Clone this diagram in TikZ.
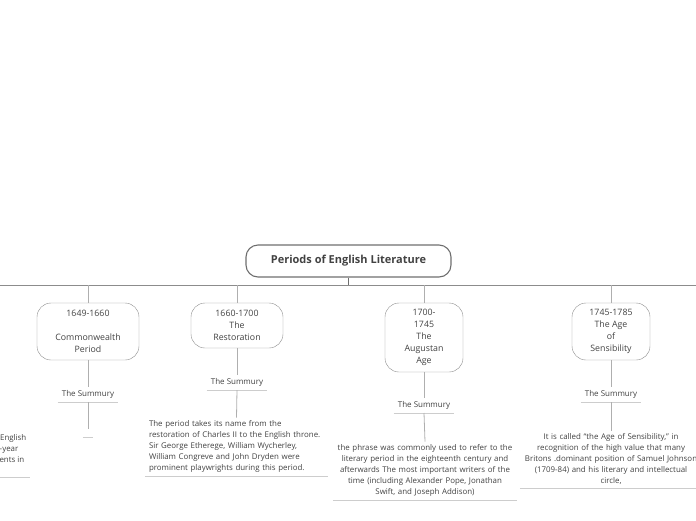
\documentclass[tikz,border=0pt]{standalone}
\usepackage{fontspec}
\setmainfont{Open Sans}
\definecolor{txt}{RGB}{66,66,66}
\definecolor{rootline}{RGB}{110,110,110}
\definecolor{boxline}{RGB}{140,140,140}
\definecolor{linkline}{RGB}{175,175,175}
\definecolor{underline}{RGB}{205,205,205}
\begin{document}
\begin{tikzpicture}[x=1pt,y=-1pt,
		root/.style={draw=rootline, line width=1.1pt, rounded corners=12pt, minimum width=205pt, minimum height=32pt, text=txt, font=\fontsize{11}{13}\selectfont\bfseries},
		period/.style={draw=boxline, rounded corners=14pt, align=center, inner sep=0pt, text=txt, font=\fontsize{8.8}{12}\selectfont},
		summ/.style={text=txt, inner xsep=4pt, inner ysep=3.5pt, font=\fontsize{8}{11}\selectfont},
		body/.style={text=txt, inner xsep=4pt, inner ysep=3pt, font=\fontsize{7.9}{11}\selectfont},
		link/.style={draw=linkline, line width=0.8pt},
		under/.style={draw=underline, line width=0.8pt}]
	\useasboundingbox (0,0) rectangle (696,520);
	\node[root] (root) at (348.5,261) {Periods of English Literature};
	\coordinate (bus west) at (0,285);
	\coordinate (bus east) at (696,285);
	\draw[draw=boxline, line width=0.9pt] (bus west) -- (bus east);
	\draw[draw=rootline, line width=0.9pt] (root.south) -- (root.south |- bus west);

	\node[period, minimum width=102pt, minimum height=57pt] (p1) at (88,331.5) {1649-1660\\ \\Commonwealth\\Period};
	\node[period, minimum width=92pt, minimum height=45pt] (p2) at (237,325.5) {1660-1700\\The\\Restoration};
	\node[period, minimum width=78pt, minimum height=69pt] (p3) at (424,337.5) {1700-\\1745\\ The\\Augustan\\Age};
	\node[period, minimum width=78pt, minimum height=57pt] (p4) at (611,331.5) {1745-1785\\The Age\\of\\Sensibility};
	\foreach \p in {p1,p2,p3,p4}
		\draw[link] (\p.north) -- (\p.north |- bus west);

	\node[summ, anchor=south] (s1) at (88,402) {The Summury};
	\node[summ, anchor=south] (s2) at (237,390) {The Summury};
	\node[summ, anchor=south] (s3) at (424,413) {The Summury};
	\node[summ, anchor=south] (s4) at (611,402) {The Summury};

	\node[body, anchor=south, minimum width=10pt, minimum height=8pt] (t1) at (88,437) {};
	\node[body, anchor=south, text width=175pt, align=left] (t2) at (236.5,476) {The period takes its name from the\\restoration of Charles II to the English throne.\\Sir George Etherege, William Wycherley,\\William Congreve and John Dryden were\\prominent playwrights during this period.};
	\node[body, anchor=south, text width=176pt, align=center] (t3) at (425,500) {the phrase was commonly used to refer to the\\literary period in the eighteenth century and\\afterwards The most important writers of the\\time (including Alexander Pope, Jonathan\\Swift, and Joseph Addison)};
	\node[body, anchor=south, text width=174pt, align=center] (t4) at (611,488) {It is called ``the Age of Sensibility,'' in\\recognition of the high value that many\\Britons .dominant position of Samuel Johnson\\(1709-84) and his literary and intellectual\\circle,};
	\node[body, anchor=south east, align=right, inner xsep=0pt] (t0) at (26.5,477) {English\\-year\rule{8pt}{0pt}\\ents in\rule{2pt}{0pt}\\\mbox{}};

	\foreach \i in {1,2,3,4} {
		\draw[link] (p\i.south) -- (s\i.north);
		\draw[under] (s\i.south west) -- (s\i.south east);
		\draw[link] (s\i.south) -- (t\i.north);
		\draw[under] (t\i.south west) -- (t\i.south east);
	}
	\coordinate (t0 end) at (t0.south east);
	\draw[under] (bus west |- t0 end) -- ([xshift=3.5pt]t0 end);
\end{tikzpicture}
\end{document}
